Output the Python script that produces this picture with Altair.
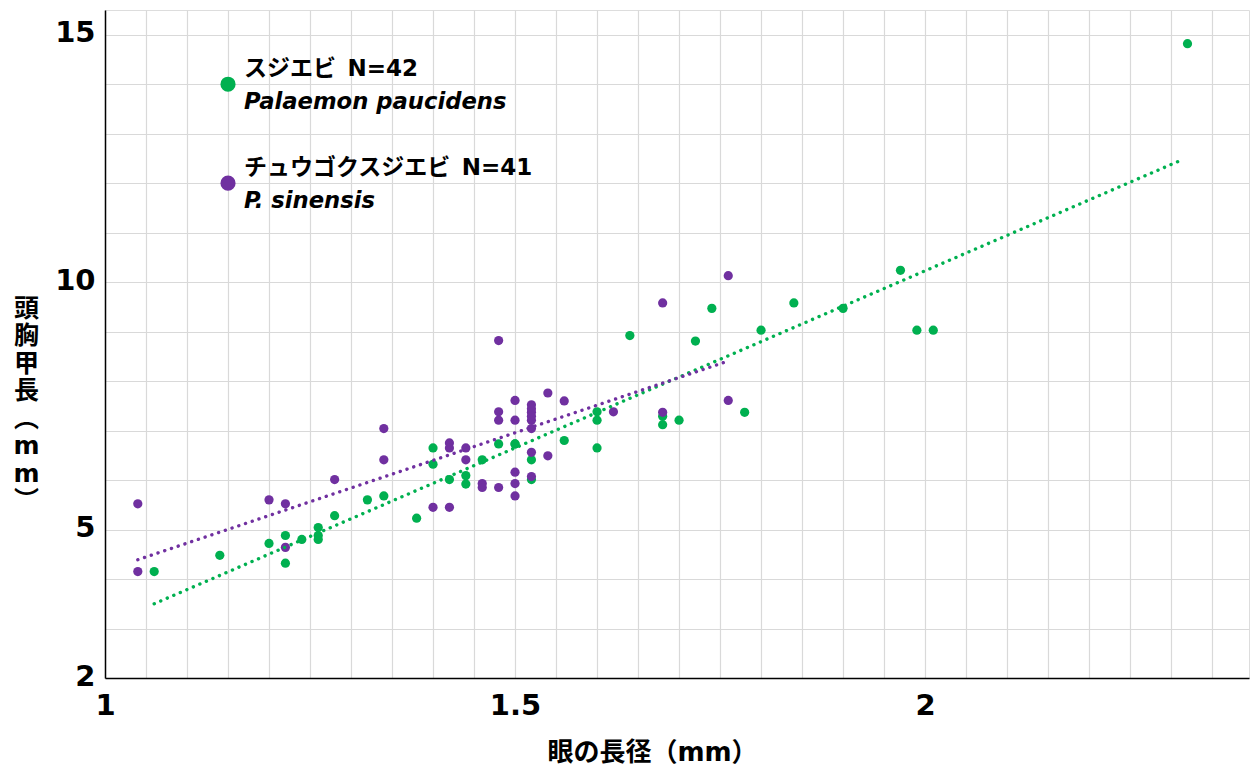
import json
import altair as alt
import pandas as pd

# ---- data ----
green_x = [1.06, 1.14, 1.20, 1.22, 1.22, 1.24, 1.26, 1.26, 1.26, 1.28, 1.32, 1.34, 1.38,
           1.40, 1.40, 1.42, 1.44, 1.44, 1.46, 1.48, 1.50, 1.52, 1.52, 1.56, 1.60, 1.60,
           1.60, 1.64, 1.72, 1.74, 1.80, 1.84, 1.90, 1.97, 1.99, 2.01, 1.68, 1.68, 1.70,
           1.78, 2.32, 1.50]
green_y = [4.15, 4.48, 4.72, 4.88, 4.32, 4.80, 5.04, 4.88, 4.80, 5.28, 5.60, 5.68, 5.23,
           6.65, 6.32, 6.01, 6.09, 5.92, 6.41, 6.73, 6.73, 6.41, 6.01, 6.80, 7.38, 7.21,
           6.65, 8.92, 8.81, 9.47, 9.03, 9.58, 9.47, 10.24, 9.03, 9.03, 7.29, 7.12, 7.21,
           7.37, 14.82, 6.73]

purple_x = [1.04, 1.04, 1.20, 1.22, 1.22, 1.28, 1.34, 1.34, 1.40, 1.42, 1.42, 1.42, 1.44,
            1.44, 1.46, 1.46, 1.48, 1.48, 1.48, 1.50, 1.50, 1.50, 1.50, 1.50, 1.52, 1.52,
            1.52, 1.52, 1.52, 1.52, 1.54, 1.54, 1.56, 1.48, 1.62, 1.68, 1.68, 1.76, 1.76,
            1.52, 1.52]
purple_y = [5.52, 4.15, 5.60, 5.52, 4.64, 6.01, 7.04, 6.41, 5.45, 5.45, 6.75, 6.65, 6.65,
            6.41, 5.93, 5.85, 5.85, 7.38, 7.21, 7.61, 7.21, 6.16, 5.93, 5.68, 7.52, 7.37,
            7.21, 7.04, 6.56, 6.07, 7.76, 6.49, 7.60, 8.82, 7.38, 9.58, 7.37, 10.13, 7.61,
            7.44, 7.29]

species = ["スジエビ", "チュウゴクスジエビ"]
colors = ["#00B050", "#7030A0"]

trend_green_x = [1.06, 2.313]
trend_green_y = [3.50, 12.47]
trend_purple_x = [1.04, 1.759]
trend_purple_y = [4.39, 8.40]

legend_x = [1.15, 1.15]
legend_y = [14.0, 12.0]
legend_name = ["スジエビ\u2002N=42", "チュウゴクスジエビ\u2002N=41"]
legend_latin = ["Palaemon paucidens", "P. sinensis"]

x_labels = [1, 1.5, 2]
y_labels = [2, 5, 10, 15]
x_grid = [round(1 + 0.05 * i, 2) for i in range(28)]
y_grid = [round(2 + 0.5 * i, 1) for i in range(28)]

y_title_lines = ["頭", "胸", "甲", "長", "︵", "m", "m", "︶"]
x_title = "眼の長径（mm）"

# ---- tables ----
pts = pd.DataFrame({
    "x": green_x + purple_x,
    "y": green_y + purple_y,
    "s": [species[0]] * len(green_x) + [species[1]] * len(purple_x),
})
trend = pd.DataFrame({
    "x": trend_green_x + trend_purple_x,
    "y": trend_green_y + trend_purple_y,
    "s": [species[0]] * 2 + [species[1]] * 2,
})
leg = pd.DataFrame({"x": legend_x, "y": legend_y, "s": species,
                    "name": legend_name, "latin": legend_latin})

LATIN = "DejaVu Sans, Noto Sans CJK JP"

xscale = alt.Scale(domain=[1, 2.395], nice=False, zero=False)
yscale = alt.Scale(domain=[2, 15.5], nice=False, zero=False)
cscale = alt.Scale(domain=species, range=colors)

x_axis = alt.Axis(
    values=x_grid, format="~g",
    labelExpr="indexof(%s, datum.value) >= 0 ? datum.label : ''" % json.dumps(x_labels),
    labelOverlap=False, labelFlush=False, ticks=False, tickSize=0,
    labelFont=LATIN, labelFontSize=29, labelFontWeight="bold", labelColor="black",
    labelBaseline="middle", labelPadding=27,
    grid=True, gridColor="#d9d9d9", gridWidth=1.2,
    domainColor="black", domainWidth=1.5,
    title=x_title, titleFont=LATIN, titleFontSize=26, titleFontWeight="bold",
    titleColor="black", titleX=547, titleY=74, titleAlign="center", titleBaseline="middle",
)
y_axis = alt.Axis(
    values=y_grid, format="~g",
    labelExpr="indexof(%s, datum.value) >= 0 ? datum.label : ''" % json.dumps(y_labels),
    labelOverlap=False, labelFlush=False, ticks=False, tickSize=0,
    labelFont=LATIN, labelFontSize=29, labelFontWeight="bold", labelColor="black",
    labelBaseline="middle", labelPadding=10, labelOffset=-2,
    grid=True, gridColor="#d9d9d9", gridWidth=1.2,
    domainColor="black", domainWidth=1.5,
    title=y_title_lines,
    titleFont=LATIN, titleFontSize=25, titleFontWeight="bold",
    titleColor="black", titleAngle=0, titleX=-79, titleY=286,
    titleAlign="center", titleBaseline="top", titleLineHeight=27.5,
)

points = alt.Chart(pts).mark_point(filled=True, size=85, opacity=1).encode(
    x=alt.X("x:Q", scale=xscale, axis=x_axis),
    y=alt.Y("y:Q", scale=yscale, axis=y_axis),
    color=alt.Color("s:N", scale=cscale, legend=None),
)

lines = alt.Chart(trend).mark_line(
    strokeDash=[0.1, 7], strokeCap="round", strokeWidth=3.4
).encode(
    x=alt.X("x:Q", scale=xscale),
    y=alt.Y("y:Q", scale=yscale),
    color=alt.Color("s:N", scale=cscale, legend=None),
    detail="s:N",
)

leg_pts = alt.Chart(leg).mark_point(filled=True, size=230, opacity=1).encode(
    x=alt.X("x:Q", scale=xscale),
    y=alt.Y("y:Q", scale=yscale),
    color=alt.Color("s:N", scale=cscale, legend=None),
)
leg_name = alt.Chart(leg).mark_text(
    align="left", baseline="middle", dx=16, dy=-15,
    font=LATIN, fontSize=23, fontWeight="bold", color="black",
).encode(x=alt.X("x:Q", scale=xscale), y=alt.Y("y:Q", scale=yscale), text="name:N")
leg_latin = alt.Chart(leg).mark_text(
    align="left", baseline="middle", dx=16, dy=18,
    font=LATIN, fontSize=22.7, fontWeight="bold", fontStyle="italic", color="black",
).encode(x=alt.X("x:Q", scale=xscale), y=alt.Y("y:Q", scale=yscale), text="latin:N")

chart = alt.layer(points, lines, leg_pts, leg_name, leg_latin).properties(
    width=1144, height=668,
    padding={"left": 105, "top": 10, "right": 2, "bottom": 89},
    autosize=alt.AutoSizeParams(type="none"),
).configure_view(stroke=None).configure(background="white")

chart.save("out.html", embed_options={"renderer": "svg", "actions": False})
